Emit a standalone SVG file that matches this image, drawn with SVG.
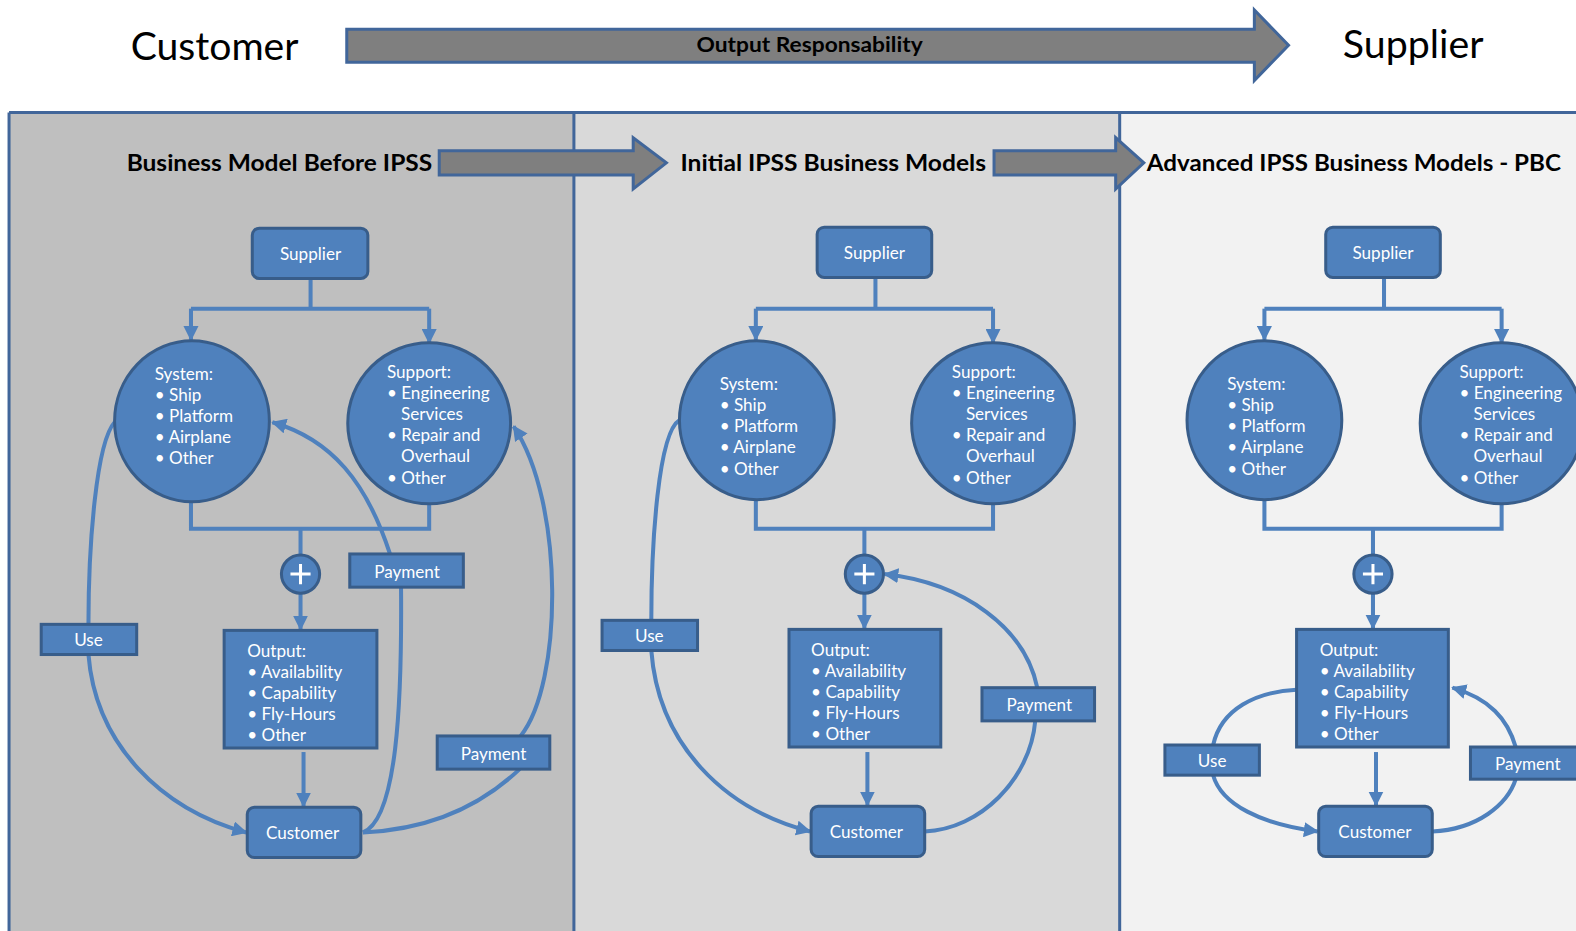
<svg xmlns="http://www.w3.org/2000/svg" width="1576" height="931" viewBox="0 0 1576 931">
  <defs>
    <style>
      .node { fill: #4f81bd; stroke: #385d8a; stroke-width: 3; }
      .lbl { fill: #ffffff; font-family: Lato, "Open Sans", sans-serif; font-size: 17px; }
      .mid { text-anchor: middle; dominant-baseline: central; }
      .conn { fill: none; stroke: #4f81bd; stroke-width: 4; }
      .bigarrow { fill: #7f7f7f; stroke: #41669a; stroke-width: 3; }
      .title { font-family: Lato, "Open Sans", sans-serif; font-weight: bold; font-size: 23px; fill: #000; }
      .head { font-family: Lato, "Open Sans", sans-serif; font-size: 38px; fill: #000; }
      .frame { stroke: #41669a; stroke-width: 3; }
      .plus { stroke: #ffffff; stroke-width: 3; fill: none; }
    </style>
    <marker id="arr" viewBox="0 0 12 12" refX="11" refY="6" markerWidth="15" markerHeight="15" markerUnits="userSpaceOnUse" orient="auto">
      <path d="M0,0 L12,6 L0,12 z" fill="#4f81bd"/>
    </marker>
  </defs>

  <rect width="1576" height="931" fill="#ffffff"/>

  <g transform="scale(1.0051,1.0054)">
  <!-- header: responsibility shift -->
  <g id="header">
    <text class="head" x="130" y="60" textLength="167" lengthAdjust="spacingAndGlyphs">Customer</text>
    <polygon class="bigarrow" points="345,29 1248,29 1248,10 1282,45 1248,80 1248,62 345,62"/>
    <text x="805.5" y="52" text-anchor="middle" textLength="225" lengthAdjust="spacingAndGlyphs" font-family="Lato, 'Open Sans', sans-serif" font-weight="bold" font-size="20px" fill="#000">Output Responsability</text>
    <text class="head" x="1336" y="58" textLength="140" lengthAdjust="spacingAndGlyphs">Supplier</text>
  </g>

  <!-- three stage panels -->
  <g id="panels">
    <rect x="9" y="112" width="562" height="830" fill="#bfbfbf"/>
    <rect x="571" y="112" width="543" height="830" fill="#d9d9d9"/>
    <rect x="1114" y="112" width="470" height="830" fill="#f2f2f2"/>
    <line class="frame" x1="9" y1="112" x2="1576" y2="112"/>
    <line class="frame" x1="9" y1="112" x2="9" y2="931"/>
    <line class="frame" x1="571" y1="112" x2="571" y2="931"/>
    <line class="frame" x1="1114" y1="112" x2="1114" y2="931"/>
  </g>

  <g id="titles">
    <text class="title" x="126" y="170" textLength="304" lengthAdjust="spacingAndGlyphs">Business Model Before IPSS</text>
    <polygon class="bigarrow" points="437,150 630,150 630,137 663,162 630,188 630,174 437,174"/>
    <text class="title" x="677" y="170" textLength="304" lengthAdjust="spacingAndGlyphs">Initial IPSS Business Models</text>
    <polygon class="bigarrow" points="989,150 1110,150 1110,137 1138,162 1110,188 1110,174 989,174"/>
    <text class="title" x="1141" y="170" textLength="412" lengthAdjust="spacingAndGlyphs">Advanced IPSS Business Models - PBC</text>
  </g>

  <!-- connectors -->
  <g id="connectors">
    <!-- stage 1 -->
    <path class="conn" d="M309,277 V307"/>
    <path class="conn" d="M190,307 H427"/>
    <path class="conn" d="M190,307 V338" marker-end="url(#arr)"/>
    <path class="conn" d="M427,307 V341" marker-end="url(#arr)"/>
    <path class="conn" d="M190,498 V526 H427 V502"/>
    <path class="conn" d="M299,526 V553"/>
    <path class="conn" d="M299,590 V626" marker-end="url(#arr)"/>
    <path class="conn" d="M302,748 V802" marker-end="url(#arr)"/>
    <path class="conn" d="M114,420 C96,440 88,540 88,621"/>
    <path class="conn" d="M88,651 C95,740 160,805 245,828" marker-end="url(#arr)"/>
    <path class="conn" d="M361,828 C395,815 400,700 399,584"/>
    <path class="conn" d="M388,551 C365,480 330,437 271,420" marker-end="url(#arr)"/>
    <path class="conn" d="M361,828 C430,825 480,800 517,765"/>
    <path class="conn" d="M518,732 C560,680 562,500 511,424" marker-end="url(#arr)"/>

    <!-- stage 2 -->
    <path class="conn" d="M871,276 V307"/>
    <path class="conn" d="M752,307 H988"/>
    <path class="conn" d="M752,307 V338" marker-end="url(#arr)"/>
    <path class="conn" d="M988,307 V341" marker-end="url(#arr)"/>
    <path class="conn" d="M752,497 V526 H988 V502"/>
    <path class="conn" d="M860,526 V553"/>
    <path class="conn" d="M860,590 V625" marker-end="url(#arr)"/>
    <path class="conn" d="M863,748 V801" marker-end="url(#arr)"/>
    <path class="conn" d="M676,418 C655,430 648,540 648,617"/>
    <path class="conn" d="M648,647 C655,740 720,805 806,827" marker-end="url(#arr)"/>
    <path class="conn" d="M920,827 C975,825 1025,775 1030,717"/>
    <path class="conn" d="M1032,684 C1020,625 960,580 880,571" marker-end="url(#arr)"/>

    <!-- stage 3 -->
    <path class="conn" d="M1377,276 V307"/>
    <path class="conn" d="M1258,307 H1494"/>
    <path class="conn" d="M1258,307 V338" marker-end="url(#arr)"/>
    <path class="conn" d="M1494,307 V341" marker-end="url(#arr)"/>
    <path class="conn" d="M1258,497 V526 H1494 V502"/>
    <path class="conn" d="M1366,526 V553"/>
    <path class="conn" d="M1366,590 V625" marker-end="url(#arr)"/>
    <path class="conn" d="M1369,748 V801" marker-end="url(#arr)"/>
    <path class="conn" d="M1290,686 C1250,688 1215,705 1207,741"/>
    <path class="conn" d="M1207,771 C1215,800 1255,820 1311,827" marker-end="url(#arr)"/>
    <path class="conn" d="M1425,827 C1470,825 1500,800 1508,775"/>
    <path class="conn" d="M1508,743 C1500,715 1482,695 1445,684" marker-end="url(#arr)"/>
  </g>

  <!-- stage 1 nodes -->
  <g id="s1-supplier">
    <rect class="node" x="251" y="227" width="115" height="50" rx="7"/>
    <text class="lbl mid" x="309" y="252">Supplier</text>
  </g>
  <g id="s1-system">
    <ellipse class="node" cx="191" cy="419" rx="77" ry="80"/>
    <text class="lbl" x="154" y="378"><tspan x="154">System:</tspan><tspan x="154" dy="21">•  Ship</tspan><tspan x="154" dy="21">•  Platform</tspan><tspan x="154" dy="21">•  Airplane</tspan><tspan x="154" dy="21">•  Other</tspan></text>
  </g>
  <g id="s1-support">
    <ellipse class="node" cx="427" cy="421" rx="81" ry="80"/>
    <text class="lbl" x="385" y="376"><tspan x="385">Support:</tspan><tspan x="385" dy="21">•  Engineering</tspan><tspan x="399" dy="21">Services</tspan><tspan x="385" dy="21">•  Repair and</tspan><tspan x="399" dy="21">Overhaul</tspan><tspan x="385" dy="21">•  Other</tspan></text>
  </g>
  <g id="s1-sum">
    <circle class="node" cx="299" cy="571" r="19"/>
    <path class="plus" d="M289,571 H309 M299,561 V581"/>
  </g>
  <g id="s1-output">
    <rect class="node" x="223" y="627" width="152" height="117"/>
    <text class="lbl" x="246" y="653"><tspan x="246">Output:</tspan><tspan x="246" dy="21">•  Availability</tspan><tspan x="246" dy="21">•  Capability</tspan><tspan x="246" dy="21">•  Fly-Hours</tspan><tspan x="246" dy="21">•  Other</tspan></text>
  </g>
  <g id="s1-customer">
    <rect class="node" x="246" y="803" width="113" height="50" rx="7"/>
    <text class="lbl mid" x="301" y="828">Customer</text>
  </g>
  <g id="s1-use">
    <rect class="node" x="41" y="621" width="95" height="30"/>
    <text class="lbl mid" x="88" y="636">Use</text>
  </g>
  <g id="s1-payment-a">
    <rect class="node" x="348" y="551" width="113" height="33"/>
    <text class="lbl mid" x="405" y="568">Payment</text>
  </g>
  <g id="s1-payment-b">
    <rect class="node" x="435" y="732" width="112" height="33"/>
    <text class="lbl mid" x="491" y="749">Payment</text>
  </g>

  <!-- stage 2 nodes -->
  <g id="s2-supplier">
    <rect class="node" x="813" y="226" width="114" height="50" rx="7"/>
    <text class="lbl mid" x="870" y="251">Supplier</text>
  </g>
  <g id="s2-system">
    <ellipse class="node" cx="753" cy="418" rx="77" ry="79"/>
    <text class="lbl" x="716" y="388"><tspan x="716">System:</tspan><tspan x="716" dy="21">•  Ship</tspan><tspan x="716" dy="21">•  Platform</tspan><tspan x="716" dy="21">•  Airplane</tspan><tspan x="716" dy="21">•  Other</tspan></text>
  </g>
  <g id="s2-support">
    <ellipse class="node" cx="988" cy="421" rx="81" ry="80"/>
    <text class="lbl" x="947" y="376"><tspan x="947">Support:</tspan><tspan x="947" dy="21">•  Engineering</tspan><tspan x="961" dy="21">Services</tspan><tspan x="947" dy="21">•  Repair and</tspan><tspan x="961" dy="21">Overhaul</tspan><tspan x="947" dy="21">•  Other</tspan></text>
  </g>
  <g id="s2-sum">
    <circle class="node" cx="860" cy="571" r="19"/>
    <path class="plus" d="M850,571 H870 M860,561 V581"/>
  </g>
  <g id="s2-output">
    <rect class="node" x="785" y="626" width="151" height="117"/>
    <text class="lbl" x="807" y="652"><tspan x="807">Output:</tspan><tspan x="807" dy="21">•  Availability</tspan><tspan x="807" dy="21">•  Capability</tspan><tspan x="807" dy="21">•  Fly-Hours</tspan><tspan x="807" dy="21">•  Other</tspan></text>
  </g>
  <g id="s2-customer">
    <rect class="node" x="807" y="802" width="113" height="50" rx="7"/>
    <text class="lbl mid" x="862" y="827">Customer</text>
  </g>
  <g id="s2-use">
    <rect class="node" x="599" y="617" width="95" height="30"/>
    <text class="lbl mid" x="646" y="632">Use</text>
  </g>
  <g id="s2-payment">
    <rect class="node" x="977" y="684" width="112" height="33"/>
    <text class="lbl mid" x="1034" y="701">Payment</text>
  </g>

  <!-- stage 3 nodes -->
  <g id="s3-supplier">
    <rect class="node" x="1319" y="226" width="114" height="50" rx="7"/>
    <text class="lbl mid" x="1376" y="251">Supplier</text>
  </g>
  <g id="s3-system">
    <ellipse class="node" cx="1258" cy="418" rx="77" ry="79"/>
    <text class="lbl" x="1221" y="388"><tspan x="1221">System:</tspan><tspan x="1221" dy="21">•  Ship</tspan><tspan x="1221" dy="21">•  Platform</tspan><tspan x="1221" dy="21">•  Airplane</tspan><tspan x="1221" dy="21">•  Other</tspan></text>
  </g>
  <g id="s3-support">
    <ellipse class="node" cx="1494" cy="421" rx="81" ry="80"/>
    <text class="lbl" x="1452" y="376"><tspan x="1452">Support:</tspan><tspan x="1452" dy="21">•  Engineering</tspan><tspan x="1466" dy="21">Services</tspan><tspan x="1452" dy="21">•  Repair and</tspan><tspan x="1466" dy="21">Overhaul</tspan><tspan x="1452" dy="21">•  Other</tspan></text>
  </g>
  <g id="s3-sum">
    <circle class="node" cx="1366" cy="571" r="19"/>
    <path class="plus" d="M1356,571 H1376 M1366,561 V581"/>
  </g>
  <g id="s3-output">
    <rect class="node" x="1290" y="626" width="151" height="117"/>
    <text class="lbl" x="1313" y="652"><tspan x="1313">Output:</tspan><tspan x="1313" dy="21">•  Availability</tspan><tspan x="1313" dy="21">•  Capability</tspan><tspan x="1313" dy="21">•  Fly-Hours</tspan><tspan x="1313" dy="21">•  Other</tspan></text>
  </g>
  <g id="s3-customer">
    <rect class="node" x="1312" y="802" width="113" height="50" rx="7"/>
    <text class="lbl mid" x="1368" y="827">Customer</text>
  </g>
  <g id="s3-use">
    <rect class="node" x="1159" y="741" width="94" height="30"/>
    <text class="lbl mid" x="1206" y="756">Use</text>
  </g>
  <g id="s3-payment">
    <rect class="node" x="1463" y="743" width="116" height="32"/>
    <text class="lbl mid" x="1520" y="759">Payment</text>
  </g>
  </g>
</svg>
